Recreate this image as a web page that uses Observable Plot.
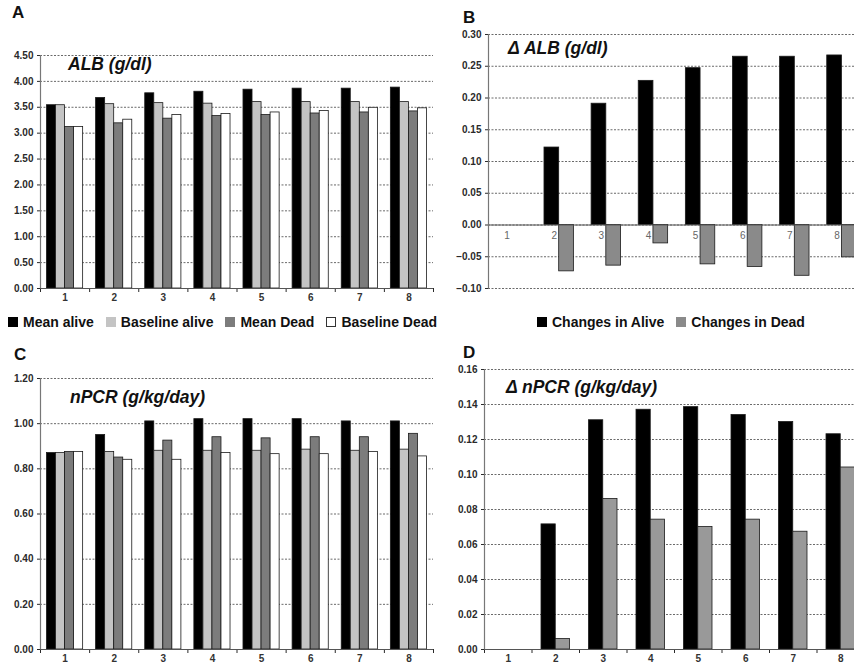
<!DOCTYPE html>
<html><head><meta charset="utf-8">
<script src="https://cdn.jsdelivr.net/npm/d3@7"></script>
<script src="https://cdn.jsdelivr.net/npm/@observablehq/plot@0.6"></script>
<style>
body{margin:0;background:#fff;}
#root{position:relative;width:854px;height:671px;overflow:hidden;font-family:"Liberation Sans",Arial,sans-serif;background:#fff;}
.panel{position:absolute;}
.letter{position:absolute;font-weight:bold;font-size:17px;line-height:1;color:#111;}
.title{position:absolute;font-weight:bold;font-style:italic;font-size:17.5px;line-height:1;color:#111;white-space:nowrap;}
.legend{position:absolute;display:flex;align-items:center;font-weight:bold;font-size:14px;line-height:1;color:#111;white-space:nowrap;}
.legend .item{display:flex;align-items:center;margin-right:12px;}
.legend .sw{display:inline-block;width:10px;height:10px;margin-right:5px;box-sizing:border-box;border:1px solid #333;}
</style></head><body><div id="root"></div>
<script>
// ---------- data ----------
const categories = [1, 2, 3, 4, 5, 6, 7, 8];
const seriesAC = ["Mean alive", "Baseline alive", "Mean Dead", "Baseline Dead"];
const seriesBD = ["Changes in Alive", "Changes in Dead"];

const albMeanAlive     = [3.54, 3.68, 3.77, 3.80, 3.84, 3.86, 3.86, 3.88];
const albBaselineAlive = [3.54, 3.56, 3.58, 3.57, 3.60, 3.60, 3.60, 3.60];
const albMeanDead      = [3.12, 3.19, 3.28, 3.33, 3.35, 3.38, 3.40, 3.42];
const albBaselineDead  = [3.12, 3.26, 3.35, 3.37, 3.40, 3.43, 3.49, 3.48];

const dAlbAlive = [null, 0.122, 0.191, 0.227, 0.247, 0.265, 0.265, 0.267];
const dAlbDead  = [null, -0.073, -0.064, -0.029, -0.062, -0.066, -0.080, -0.051];

const npcrMeanAlive     = [0.870, 0.950, 1.010, 1.020, 1.020, 1.020, 1.010, 1.010];
const npcrBaselineAlive = [0.870, 0.875, 0.880, 0.880, 0.880, 0.885, 0.880, 0.885];
const npcrMeanDead      = [0.875, 0.850, 0.925, 0.940, 0.935, 0.940, 0.940, 0.955];
const npcrBaselineDead  = [0.875, 0.840, 0.840, 0.870, 0.865, 0.865, 0.875, 0.855];

const dNpcrAlive = [null, 0.0715, 0.131, 0.137, 0.1385, 0.134, 0.130, 0.123];
const dNpcrDead  = [null, 0.006, 0.086, 0.0742, 0.070, 0.0742, 0.0673, 0.104];

const albTicks   = [0, 0.5, 1.0, 1.5, 2.0, 2.5, 3.0, 3.5, 4.0, 4.5];
const dAlbTicks  = [-0.10, -0.05, 0, 0.05, 0.10, 0.15, 0.20, 0.25, 0.30];
const npcrTicks  = [0, 0.2, 0.4, 0.6, 0.8, 1.0, 1.2];
const dNpcrTicks = [0, 0.02, 0.04, 0.06, 0.08, 0.10, 0.12, 0.14, 0.16];

const colorsAC = ["#000000", "#c4c4c4", "#7c7c7c", "#ffffff"];
const colorsB  = ["#000000", "#8a8a8a"];
const colorsD  = ["#000000", "#999999"];

// ---------- drawing ----------
const root = document.getElementById("root");

function panel(cfg) {
  const {series, values, colors, yDomain, yTicks, left, top, width, height,
         marginLeft, marginTop, marginBottom, barFrac, labelsAtZero, labelDx, labelDy, labelFill, labelWeight} = cfg;
  const n = series.length;
  const half = barFrac * n / 2;
  const rows = [];
  series.forEach((s, si) => values[si].forEach((v, ci) => {
    if (v != null) rows.push({cat: categories[ci], series: s, si, value: v});
  }));
  const x0 = categories[0] - 0.5, x1 = categories[categories.length - 1] + 0.5;
  const boundaries = d3.range(categories.length + 1).map(i => x0 + i);
  const svg = Plot.plot({
    width, height, marginLeft, marginTop, marginBottom, marginRight: 0,
    style: {fontFamily: "'Liberation Sans', Arial, sans-serif", fontSize: "10px", fontWeight: "bold",
            color: "#2a2a2a", background: "transparent", overflow: "visible"},
    x: labelsAtZero
      ? {domain: [x0, x1], axis: null}
      : {domain: [x0, x1], ticks: boundaries, tickFormat: () => "", tickSize: 4, label: null},
    y: {domain: yDomain, ticks: yTicks, tickFormat: d3.format(".2f"), tickSize: 3, tickPadding: 4, label: null},
    color: {domain: series, range: colors},
    marks: [
      Plot.ruleY(yTicks, {stroke: "#6a6a6a", strokeDasharray: "2,1.5", strokeWidth: 1}),
      Plot.rect(rows, {
        x1: d => d.cat - half + d.si * barFrac,
        x2: d => d.cat - half + (d.si + 1) * barFrac,
        y1: () => 0, y2: "value",
        fill: "series", stroke: "#1a1a1a", strokeWidth: 0.8
      }),
      Plot.ruleY([0], {stroke: "#555", strokeWidth: 1.2}),
      Plot.ruleX([x0], {stroke: "#777", strokeWidth: 1.2}),
      Plot.text(categories, {
        x: d => d, y: () => (labelsAtZero ? 0 : yDomain[0]), text: d => String(d),
        lineAnchor: "top", dy: labelDy, dx: labelDx, fontSize: 10,
        fontWeight: labelWeight, fill: labelFill
      })
    ]
  });
  svg.classList.add("panel");
  svg.style.left = left + "px";
  svg.style.top = top + "px";
  root.appendChild(svg);
}

panel({series: seriesAC, values: [albMeanAlive, albBaselineAlive, albMeanDead, albBaselineDead],
  colors: colorsAC, yDomain: [0, 4.5], yTicks: albTicks, left: 0, top: 45, width: 433, height: 265,
  marginLeft: 40, marginTop: 10, marginBottom: 22, barFrac: 0.184, labelsAtZero: false,
  labelDx: 0, labelDy: 5, labelFill: "#333", labelWeight: "bold"});

panel({series: seriesBD, values: [dAlbAlive, dAlbDead],
  colors: colorsB, yDomain: [-0.10, 0.30], yTicks: dAlbTicks, left: 430, top: 24, width: 435, height: 274,
  marginLeft: 58, marginTop: 10, marginBottom: 10, barFrac: 0.312, labelsAtZero: true,
  labelDx: -5, labelDy: 7, labelFill: "#666", labelWeight: "normal"});

panel({series: seriesAC, values: [npcrMeanAlive, npcrBaselineAlive, npcrMeanDead, npcrBaselineDead],
  colors: colorsAC, yDomain: [0, 1.2], yTicks: npcrTicks, left: 0, top: 368, width: 433, height: 303,
  marginLeft: 40, marginTop: 10, marginBottom: 22, barFrac: 0.184, labelsAtZero: false,
  labelDx: 0, labelDy: 5, labelFill: "#333", labelWeight: "bold"});

panel({series: seriesBD, values: [dNpcrAlive, dNpcrDead],
  colors: colorsD, yDomain: [0, 0.16], yTicks: dNpcrTicks, left: 430, top: 359, width: 434, height: 312,
  marginLeft: 54, marginTop: 10, marginBottom: 22, barFrac: 0.30, labelsAtZero: false,
  labelDx: 0, labelDy: 5, labelFill: "#333", labelWeight: "bold"});

function addText(cls, text, left, top) {
  const el = document.createElement("div");
  el.className = cls;
  el.textContent = text;
  el.style.left = left + "px";
  el.style.top = top + "px";
  root.appendChild(el);
}
addText("letter", "A", 12, 4);
addText("letter", "B", 463, 9);
addText("letter", "C", 14, 346);
addText("letter", "D", 463, 344);
addText("title", "ALB (g/dl)", 68, 56);
addText("title", "\u0394 ALB (g/dl)", 508, 40);
addText("title", "nPCR (g/kg/day)", 70, 389);
addText("title", "\u0394 nPCR (g/kg/day)", 506, 379);

function addLegend(series, colors, left, top) {
  const lg = document.createElement("div");
  lg.className = "legend";
  lg.style.left = left + "px";
  lg.style.top = top + "px";
  series.forEach((s, i) => {
    const item = document.createElement("span");
    item.className = "item";
    const sw = document.createElement("span");
    sw.className = "sw";
    sw.style.background = colors[i];
    sw.style.borderColor = colors[i] === "#ffffff" ? "#333" : colors[i];
    item.appendChild(sw);
    item.appendChild(document.createTextNode(s));
    lg.appendChild(item);
  });
  root.appendChild(lg);
}
addLegend(seriesAC, colorsAC, 8, 315);
addLegend(seriesBD, colorsB, 537, 315);
</script></body></html>
